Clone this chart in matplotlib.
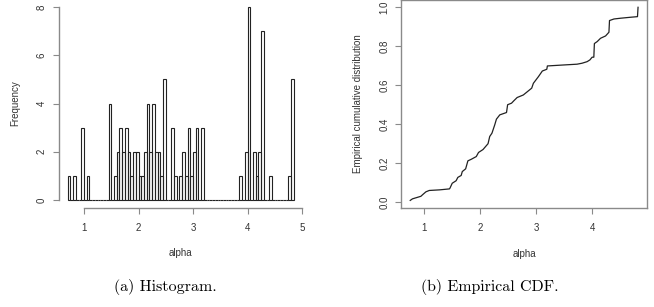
import numpy as np
import matplotlib
matplotlib.use("Agg")
import matplotlib.pyplot as plt

# histogram of alpha: bins of width 0.05 starting at 0.70
bin_start = 0.70
bin_width = 0.05
counts = [1, 0, 1, 0, 0, 3, 0, 1, 0, 0,
          0, 0, 0, 0, 0, 4, 0, 1, 2, 3,
          2, 3, 2, 1, 2, 2, 1, 1, 2, 4,
          2, 4, 2, 2, 1, 5, 0, 0, 3, 1,
          0, 1, 2, 1, 3, 1, 2, 3, 0, 3,
          0, 0, 0, 0, 0, 0, 0, 0, 0, 0,
          0, 0, 0, 1, 0, 2, 8, 0, 2, 1,
          2, 7, 0, 0, 1, 0, 0, 0, 0, 0,
          0, 1, 5]

# empirical CDF
cdf_x = [0.75, 0.79, 0.94, 0.97, 1.03, 1.09, 1.27, 1.45, 1.46, 1.50,
         1.57, 1.60, 1.66, 1.68, 1.74, 1.78, 1.84, 1.93, 1.97, 2.05,
         2.14, 2.17, 2.21, 2.26, 2.29, 2.35, 2.47, 2.49, 2.56, 2.60,
         2.66, 2.77, 2.92, 2.95, 3.04, 3.11, 3.19, 3.20, 3.49, 3.73,
         3.82, 3.91, 3.96, 4.00, 4.03, 4.04, 4.09, 4.15, 4.24, 4.30,
         4.31, 4.39, 4.51, 4.69, 4.81, 4.82]
cdf_y = [0.009, 0.017, 0.030, 0.038, 0.053, 0.060, 0.063, 0.068, 0.072, 0.097,
         0.110, 0.127, 0.137, 0.157, 0.171, 0.212, 0.220, 0.234, 0.255, 0.270,
         0.300, 0.337, 0.354, 0.397, 0.426, 0.448, 0.460, 0.500, 0.508, 0.520,
         0.537, 0.550, 0.585, 0.610, 0.644, 0.673, 0.682, 0.699, 0.704, 0.708,
         0.713, 0.721, 0.730, 0.744, 0.744, 0.814, 0.824, 0.841, 0.853, 0.872,
         0.932, 0.940, 0.944, 0.949, 0.952, 1.000]

hist_xticks = [1, 2, 3, 4, 5]
hist_yticks = [0, 2, 4, 6, 8]
cdf_xticks = [1, 2, 3, 4]
cdf_yticks = [0.0, 0.2, 0.4, 0.6, 0.8, 1.0]

plt.rcParams['font.family'] = ['Liberation Sans', 'DejaVu Sans']
txt = '#333333'
axc = '#8a8a8a'

fig = plt.figure(figsize=(6.54, 3.07), dpi=100)
W, H = 654, 307


def place(x0, x1, ytop, ybot):
    return [x0 / W, 1 - ybot / H, (x1 - x0) / W, (ybot - ytop) / H]


def style(ax):
    ax.tick_params(direction='out', length=4, width=0.8, color=axc,
                   labelsize=7, labelcolor=txt)
    ax.tick_params(axis='x', pad=7)
    ax.tick_params(axis='y', pad=4.5, labelrotation=90)
    for lab in ax.get_yticklabels():
        lab.set_va('center')


# (a) histogram
ax1 = fig.add_axes(place(58.6, 302.9, -0.7, 207.7))
lefts = bin_start + bin_width * np.arange(len(counts))
ax1.bar(lefts, counts, width=bin_width, align='edge', fill=False,
        edgecolor='#222222', linewidth=0.8)
ax1.set_xlim(0.534, 5.016)
ax1.set_ylim(-0.32, 8.32)
ax1.set_xticks(hist_xticks)
ax1.set_yticks(hist_yticks)
for s in ['top', 'right']:
    ax1.spines[s].set_visible(False)
for s in ['left', 'bottom']:
    ax1.spines[s].set_color(axc)
    ax1.spines[s].set_linewidth(1.0)
ax1.spines['bottom'].set_bounds(1, 5)
ax1.spines['left'].set_bounds(0, 8)
style(ax1)
ax1.set_xlabel('alpha', fontsize=7, color=txt, labelpad=11)
ax1.set_ylabel('Frequency', fontsize=7, color=txt, labelpad=12)

# (b) empirical CDF
ax2 = fig.add_axes(place(401, 647, -0.5, 208))
ax2.plot(cdf_x, cdf_y, color='#222222', linewidth=0.9)
ax2.set_xlim(0.585, 4.98)
ax2.set_ylim(-0.03, 1.04)
ax2.set_xticks(cdf_xticks)
ax2.set_yticks(cdf_yticks)
ax2.set_yticklabels([f'{v:.1f}' for v in cdf_yticks])
for s in ax2.spines.values():
    s.set_color(axc)
    s.set_linewidth(1.0)
style(ax2)
ax2.set_xlabel('alpha', fontsize=7, color=txt, labelpad=11)
ax2.set_ylabel('Empirical cumulative distribution', fontsize=7, color=txt, labelpad=12)

# captions
fig.text(165 / W, 1 - 287 / H, '(a) Histogram.', ha='center', va='center',
         family='cmr10', fontsize=11.5)
fig.text(490 / W, 1 - 287 / H, '(b) Empirical CDF.', ha='center', va='center',
         family='cmr10', fontsize=11.5)

fig.savefig('out.png', dpi=100)
